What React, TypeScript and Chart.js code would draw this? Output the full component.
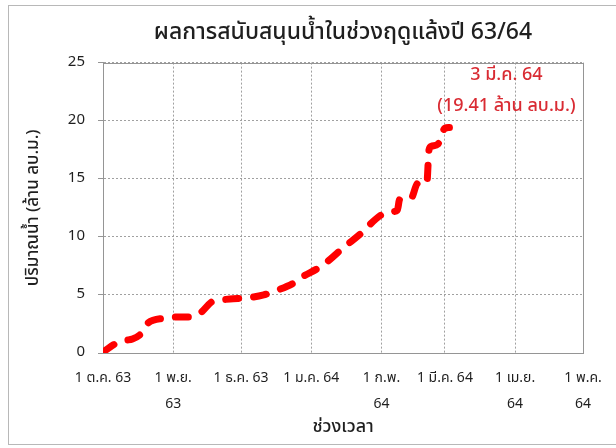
import { useEffect, useRef } from "react";
import { Chart, registerables } from "chart.js";

Chart.register(...registerables);

const TITLE = "ผลการสนับสนุนน้ำในช่วงฤดูแล้งปี 63/64";
const Y_TITLE = "ปริมาณน้ำ (ล้าน ลบ.ม.)";
const X_TITLE = "ช่วงเวลา";

// days counted from 1 Oct 2020
const MONTH_TICK_DAYS = [0, 31, 61, 92, 123, 151, 182, 212];
const MONTH_TICK_LABELS = [
  ["1 ต.ค. 63"],
  ["1 พ.ย.", "63"],
  ["1 ธ.ค. 63"],
  ["1 ม.ค. 64"],
  ["1 ก.พ.", "64"],
  ["1 มี.ค. 64"],
  ["1 เม.ย.", "64"],
  ["1 พ.ค.", "64"],
];

const DAYS = [
  0, 7, 10, 13, 17, 20, 27, 31, 38, 43, 48, 50, 56, 64, 71, 77, 84, 88, 95, 99,
  104, 107, 114, 117, 123, 127, 130, 131, 136, 139, 143, 144, 145, 148, 151, 153,
];
const VOLUME = [
  0.1, 0.95, 1.1, 1.2, 1.7, 2.6, 3.0, 3.1, 3.1, 3.45, 4.4, 4.5, 4.65, 4.75, 5.0,
  5.4, 6.0, 6.55, 7.3, 7.85, 8.7, 9.2, 10.3, 10.9, 11.9, 12.15, 12.3, 13.2, 13.3,
  14.6, 14.6, 17.5, 17.8, 18.0, 19.35, 19.41,
];

const LAST_LABEL = ["3 มี.ค. 64", "(19.41 ล้าน ลบ.ม.)"];

const FONT = "Tahoma, 'Noto Sans Thai', 'Leelawadee UI', 'Noto Sans', 'DejaVu Sans', sans-serif";
const TEXT = "#1f1f1f";
const GRID = "#a0a0a0";
const AXIS = "#959595";

export default function App() {
  const ref = useRef<HTMLCanvasElement | null>(null);

  useEffect(() => {
    if (!ref.current) return;
    Chart.defaults.font.family = FONT;

    const framePlugin = {
      id: "frameBox",
      beforeDatasetsDraw(chart: any) {
        const { ctx, chartArea } = chart;
        ctx.save();
        ctx.strokeStyle = AXIS;
        ctx.lineWidth = 1;
        ctx.setLineDash([]);
        const l = Math.round(chartArea.left) + 0.5;
        const t = Math.round(chartArea.top) + 0.5;
        ctx.strokeRect(l, t, Math.round(chartArea.right - chartArea.left), Math.round(chartArea.bottom - chartArea.top));
        ctx.restore();
      },
    };

    const labelPlugin = {
      id: "lastLabel",
      afterDatasetsDraw(chart: any) {
        const meta = chart.getDatasetMeta(0);
        const pt = meta.data[meta.data.length - 1];
        if (!pt) return;
        const { ctx } = chart;
        ctx.save();
        ctx.fillStyle = "#d92b33";
        ctx.font = `500 18px ${FONT}`;
        ctx.textAlign = "center";
        ctx.textBaseline = "middle";
        ctx.fillText(LAST_LABEL[0], pt.x + 57, pt.y - 51);
        ctx.fillText(LAST_LABEL[1], pt.x + 57, pt.y - 20);
        ctx.restore();
      },
    };

    const chart = new Chart(ref.current, {
      type: "line",
      data: {
        datasets: [
          {
            label: Y_TITLE,
            data: DAYS.map((d, i) => ({ x: d, y: VOLUME[i] })),
            borderColor: "#ff0000",
            backgroundColor: "#ff0000",
            borderWidth: 7,
            borderDash: [13, 15],
            borderCapStyle: "round",
            borderJoinStyle: "round",
            pointRadius: 0,
            cubicInterpolationMode: "monotone",
            fill: false,
          },
        ],
      },
      options: {
        animation: false,
        responsive: false,
        layout: { padding: { left: 0, right: 33, top: 0, bottom: 0 } },
        plugins: {
          legend: { display: false },
          tooltip: { enabled: false },
          title: {
            display: true,
            text: TITLE,
            color: TEXT,
            fullSize: false,
            font: { size: 23, weight: "500" },
            padding: { top: 15, bottom: 14 },
          },
        },
        scales: {
          x: {
            type: "linear",
            min: 0,
            max: 212,
            afterBuildTicks: (s: any) => {
              s.ticks = MONTH_TICK_DAYS.map((v) => ({ value: v }));
            },
            afterFit: (s: any) => {
              s.height = 91;
            },
            ticks: {
              autoSkip: false,
              maxRotation: 0,
              minRotation: 0,
              color: TEXT,
              padding: 13,
              font: { size: 14, lineHeight: 1.857 },
              callback: (v: any) => {
                const i = MONTH_TICK_DAYS.indexOf(Number(v));
                return i >= 0 ? MONTH_TICK_LABELS[i] : "";
              },
            },
            grid: { color: GRID, drawTicks: false, lineWidth: 1 },
            border: { display: true, color: AXIS, dash: [2, 2] },
            title: {
              display: true,
              text: X_TITLE,
              color: TEXT,
              font: { size: 18, weight: "500" },
              padding: { top: 0, bottom: 5 },
            },
          },
          y: {
            min: 0,
            max: 25,
            afterFit: (s: any) => {
              s.width = 94;
            },
            ticks: {
              stepSize: 5,
              color: TEXT,
              padding: 13,
              font: { size: 15 },
            },
            grid: { color: GRID, tickLength: 5, tickColor: AXIS, lineWidth: 1 },
            border: { display: true, color: AXIS, dash: [2, 2] },
            title: {
              display: true,
              text: Y_TITLE,
              color: TEXT,
              font: { size: 17, weight: "500" },
              padding: { top: 15, bottom: 0 },
            },
          },
        },
      },
      plugins: [framePlugin, labelPlugin],
    } as any);

    return () => chart.destroy();
  }, []);

  return (
    <div
      style={{
        position: "fixed",
        left: 8,
        top: 5,
        width: 640,
        height: 438,
        border: "1px solid #b8b8b8",
        background: "#ffffff",
      }}
    >
      <canvas
        ref={ref}
        width={607}
        height={438}
        style={{ display: "block", width: 607, height: 438 }}
      />
    </div>
  );
}
